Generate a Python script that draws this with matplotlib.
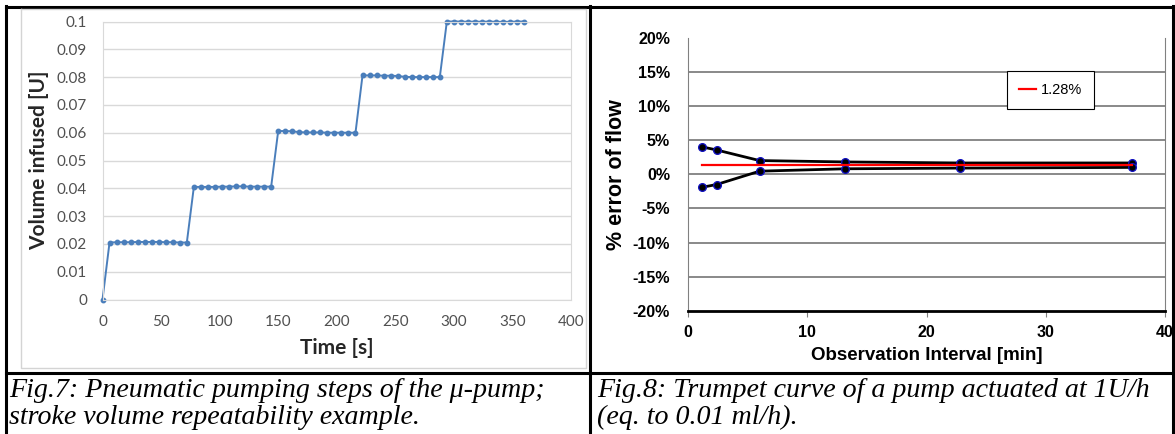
import matplotlib
matplotlib.use('Agg')
import matplotlib.pyplot as plt

# Fig.7 - volume infused vs time
time_s = [0, 6, 12, 18, 24, 30, 36, 42, 48, 54, 60, 66, 72,
          78, 84, 90, 96, 102, 108, 114, 120, 126, 132, 138, 144,
          150, 156, 162, 168, 174, 180, 186, 192, 198, 204, 210, 216,
          222, 228, 234, 240, 246, 252, 258, 264, 270, 276, 282, 288,
          294, 300, 306, 312, 318, 324, 330, 336, 342, 348, 354, 360]
volume_u = [0,
            0.0205, 0.0206, 0.0206, 0.0206, 0.0207, 0.0207, 0.0207, 0.0207, 0.0206, 0.0206, 0.0205, 0.0205,
            0.0405, 0.0405, 0.0405, 0.0405, 0.0406, 0.0406, 0.0407, 0.0407, 0.0406, 0.0406, 0.0406, 0.0406,
            0.0606, 0.0606, 0.0605, 0.0602, 0.0601, 0.0601, 0.0601, 0.0600, 0.0600, 0.0600, 0.0600, 0.0600,
            0.0806, 0.0806, 0.0806, 0.0805, 0.0805, 0.0804, 0.0801, 0.0800, 0.0800, 0.0800, 0.0800, 0.0800,
            0.1000, 0.1000, 0.1000, 0.0999, 0.1000, 0.0999, 0.1000, 0.0999, 0.0999, 0.0999, 0.1000, 0.1000]

# Fig.8 - trumpet curve
obs_min = [1.2, 2.4, 6.0, 13.2, 22.8, 37.2]
err_max = [4.0, 3.55, 2.0, 1.8, 1.65, 1.65]
err_min = [-1.9, -1.5, 0.45, 0.8, 0.9, 1.0]
mean_err = 1.28

W, H = 1175, 434
fig = plt.figure(figsize=(W / 100, H / 100), dpi=100)


def px_axes(l, t, r, b):
    return fig.add_axes([l / W, 1 - b / H, (r - l) / W, (b - t) / H])


# background: table lines + captions in pixel coords
bg = fig.add_axes([0, 0, 1, 1], zorder=-5)
bg.set_xlim(0, W)
bg.set_ylim(H, 0)
bg.axis('off')
for x in (6, 589.5, 1173):
    bg.plot([x, x], [6, H], color='black', lw=2.2)
bg.plot([6, 1173], [7, 7], color='black', lw=2.2)
bg.plot([6, 1173], [372.5, 372.5], color='black', lw=2.2)
# excel chart frame
bg.plot([21, 21, 586, 586, 21], [8.5, 368, 368, 8.5, 8.5], color='#d4d4d4', lw=1)

cap = dict(family='Liberation Serif', style='italic', fontsize=20.2, va='baseline')
bg.text(9, 397, 'Fig.7: Pneumatic pumping steps of the \u03bc-pump;', **cap)
bg.text(9, 424, 'stroke volume repeatability example.', **cap)
bg.text(597, 397, 'Fig.8: Trumpet curve of a pump actuated at 1U/h', **cap)
bg.text(597, 424, '(eq. to 0.01 ml/h).', **cap)

# ---- left chart ----
ax1 = px_axes(102.5, 21.5, 571, 299.5)
ax1.plot(time_s, volume_u, color='#4a7ebb', lw=1.4, marker='o', ms=3.2, mec='#4a7ebb', clip_on=False)
ax1.set_xlim(0, 400)
ax1.set_ylim(0, 0.1)
ax1.set_xticks([0, 50, 100, 150, 200, 250, 300, 350, 400])
ax1.set_yticks([0, 0.01, 0.02, 0.03, 0.04, 0.05, 0.06, 0.07, 0.08, 0.09, 0.1])
ax1.set_yticklabels(['0', '0.01', '0.02', '0.03', '0.04', '0.05', '0.06', '0.07', '0.08', '0.09', '0.1'])
ax1.grid(axis='y', color='#d9d9d9', lw=1)
ax1.set_axisbelow(True)
for s in ax1.spines.values():
    s.set_color('#d9d9d9')
ax1.tick_params(length=0, labelsize=11, labelcolor='#505050', pad=11)
for lab in ax1.get_xticklabels() + ax1.get_yticklabels():
    lab.set_family('Lato')
ax1.set_xlabel('Time [s]', family='Lato', fontsize=15, fontweight='bold', color='#262626', labelpad=7)
ax1.set_ylabel('Volume infused [U]', family='Lato', fontsize=15, fontweight='bold', color='#262626', labelpad=6)

# ---- right chart ----
ax2 = px_axes(688, 37.5, 1165, 311)
mk = dict(color='black', lw=2, marker='o', ms=5.5, mfc='black', mec='#1010c0', mew=1)
ax2.plot(obs_min, err_max, **mk)
ax2.plot(obs_min, err_min, **mk)
ax2.plot([obs_min[0], obs_min[-1]], [mean_err, mean_err], color='red', lw=1.6, label='1.28%')
ax2.set_xlim(0, 40)
ax2.set_ylim(-20, 20)
ax2.set_xticks([0, 10, 20, 30, 40])
ax2.set_yticks([-20, -15, -10, -5, 0, 5, 10, 15, 20])
ax2.set_yticklabels(['%d%%' % v for v in [-20, -15, -10, -5, 0, 5, 10, 15, 20]])
for v in [-15, -10, -5, 0, 5, 10, 15]:
    ax2.axhline(v, color='#808080', lw=1.3, zorder=0)
ax2.spines['top'].set_visible(False)
ax2.spines['left'].set_color('#808080')
ax2.spines['right'].set_color('#808080')
ax2.spines['bottom'].set_color('black')
ax2.spines['bottom'].set_linewidth(2)
ax2.tick_params(axis='y', length=0, pad=13)
ax2.tick_params(axis='x', length=4, color='#808080', direction='out', pad=6)
for lab in ax2.get_xticklabels() + ax2.get_yticklabels():
    lab.set_family('Liberation Sans')
    lab.set_fontweight('bold')
    lab.set_fontsize(11.5)
ax2.set_xlabel('Observation Interval [min]', family='Liberation Sans', fontsize=13.5, fontweight='bold', labelpad=5)
ax2.set_ylabel('% error of flow', family='Liberation Sans', fontsize=15.5, fontweight='bold', labelpad=4)
leg = ax2.legend(loc='upper left', bbox_to_anchor=(0.669, 0.876), borderaxespad=0, fancybox=False,
                 edgecolor='black', framealpha=1, handlelength=1.2, handletextpad=0.3,
                 prop={'family': 'Liberation Sans', 'size': 10.5}, borderpad=0.8)
leg.get_frame().set_linewidth(0.8)

fig.savefig('out.png', dpi=100)
